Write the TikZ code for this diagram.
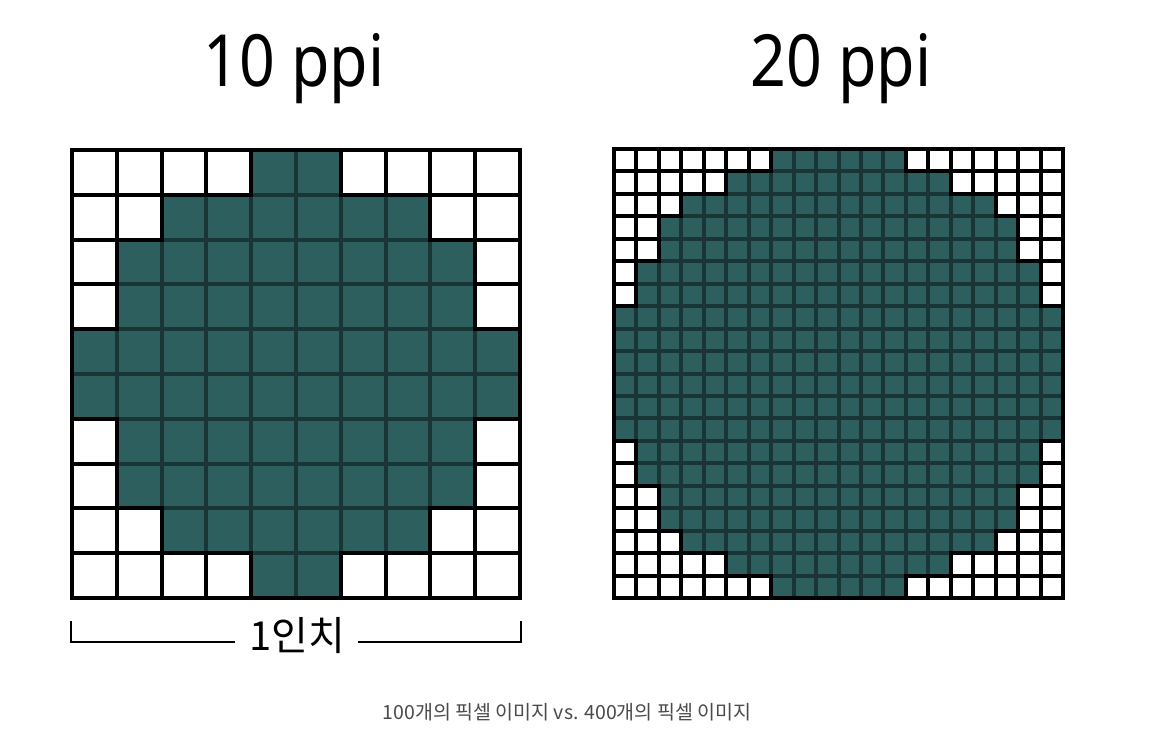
\documentclass[tikz,border=0pt]{standalone}
\usepackage{fontspec}
\setmainfont{Noto Sans}
\newfontfamily\titlefont[FakeStretch=0.87]{Noto Sans}
\newfontfamily\krfont{Noto Sans CJK KR}
\definecolor{teal0}{HTML}{2E5F5F}
\definecolor{tealline}{HTML}{1A3535}
\definecolor{captiongray}{HTML}{4A4A4A}
\tikzset{
  darkcell/.style={fill=teal0},
  whitecell/.style={fill=white, draw=black, line width=4pt},
  gridborder/.style={draw=black, line width=4pt},
  titletext/.style={font=\titlefont\fontsize{72}{80}\selectfont, anchor=base, inner sep=0pt},
  bracketline/.style={draw=black, line width=1.6pt},
}
\begin{document}
\begin{tikzpicture}[x=1pt,y=-1pt]
\useasboundingbox (0,0) rectangle (1158,743);
\fill[white] (0,0) rectangle (1158,743);

% ---------- left grid 10x10 ----------
\def\gx{72}\def\gy{150}\def\gc{44.8}
\fill[tealline] (\gx,\gy) rectangle ++(448,448);
\foreach \r/\a/\b in {0/4/5,1/2/7,2/1/8,3/1/8,4/0/9,5/0/9,6/1/8,7/1/8,8/2/7,9/4/5}{
  \foreach \c in {0,...,9}{
    \pgfmathsetmacro\xa{\gx+\c*\gc}
    \pgfmathsetmacro\ya{\gy+\r*\gc}
    \pgfmathsetmacro\xb{\xa+\gc}
    \pgfmathsetmacro\yb{\ya+\gc}
    \ifnum\c<\a\relax
      \path[whitecell] (\xa,\ya) rectangle (\xb,\yb);
    \else\ifnum\c>\b\relax
      \path[whitecell] (\xa,\ya) rectangle (\xb,\yb);
    \else
      \path[darkcell] (\xa+2,\ya+2) rectangle (\xb-2,\yb-2);
    \fi\fi
  }
}
\path[gridborder] (\gx,\gy) rectangle ++(448,448);

% ---------- right grid 20x20 ----------
\def\hx{614}\def\hy{149}\def\hc{22.45}
\fill[tealline] (\hx,\hy) rectangle ++(449,449);
\foreach \r/\w in {0/7,1/5,2/3,3/2,4/2,5/1,6/1,7/0,8/0,9/0,10/0,11/0,12/0,13/1,14/1,15/2,16/2,17/3,18/5,19/7}{
  \foreach \c in {0,...,19}{
    \pgfmathsetmacro\xa{\hx+\c*\hc}
    \pgfmathsetmacro\ya{\hy+\r*\hc}
    \pgfmathsetmacro\xb{\xa+\hc}
    \pgfmathsetmacro\yb{\ya+\hc}
    \pgfmathtruncatemacro\hi{19-\w}
    \ifnum\c<\w\relax
      \path[whitecell] (\xa,\ya) rectangle (\xb,\yb);
    \else\ifnum\c>\hi\relax
      \path[whitecell] (\xa,\ya) rectangle (\xb,\yb);
    \else
      \path[darkcell] (\xa+2,\ya+2) rectangle (\xb-2,\yb-2);
    \fi\fi
  }
}
\path[gridborder] (\hx,\hy) rectangle ++(449,449);

% ---------- titles ----------
\node[titletext] (t1) at (294,87) {10 ppi};
\node[titletext] (t2) at (841,87) {20 ppi};

% ---------- bracket ----------
\node[font=\krfont\fontsize{40}{44}\selectfont, inner sep=0pt] (inch) at (297,636) {1인치};
\coordinate (bl) at (71,621);
\coordinate (br) at (521,621);
\draw[bracketline] (bl) -- (71,642) -- (235,642);
\draw[bracketline] (358,642) -- (521,642) -- (br);

% ---------- caption ----------
\node[font=\krfont\fontsize{19.5}{23}\selectfont, text=captiongray, inner sep=0pt] (cap) at (567,712) {100개의 픽셀 이미지 vs. 400개의 픽셀 이미지};
\end{tikzpicture}
\end{document}
